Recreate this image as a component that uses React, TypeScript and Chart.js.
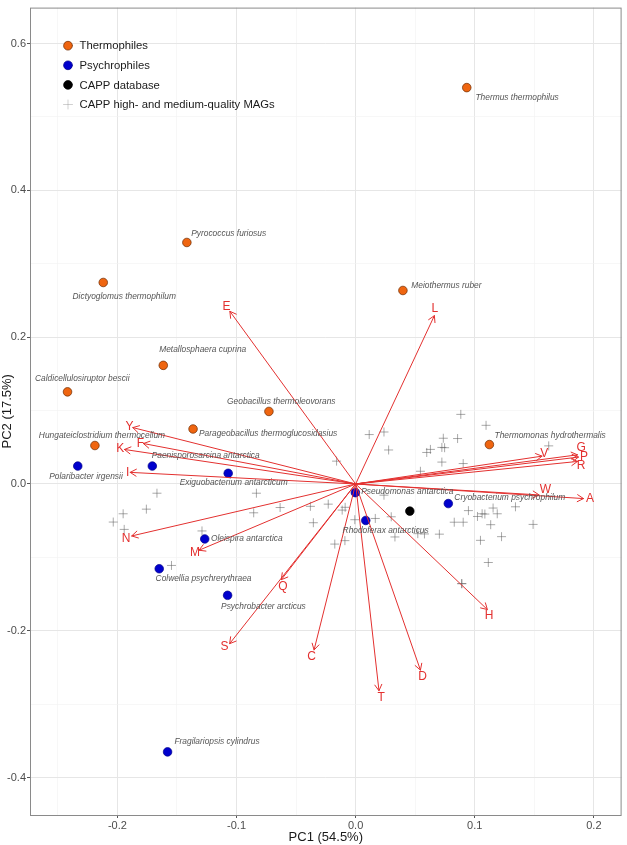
import React, { useEffect, useRef } from 'react';
import { Chart, registerables } from 'chart.js';

Chart.register(...registerables);

// ---------- axes ----------
const xMin = -0.2734;
const xMax = 0.2233;
const yMin = -0.451;
const yMax = 0.649;
const xGridValues = [-0.25, -0.2, -0.15, -0.1, -0.05, 0, 0.05, 0.1, 0.15, 0.2];
const xTickLabels = [-0.2, -0.1, 0, 0.1, 0.2];
const yGridValues = [-0.4, -0.3, -0.2, -0.1, 0, 0.1, 0.2, 0.3, 0.4, 0.5, 0.6];
const yTickLabels = [-0.4, -0.2, 0, 0.2, 0.4, 0.6];
const xTitle = 'PC1 (54.5%)';
const yTitle = 'PC2 (17.5%)';

// ---------- legend ----------
const legendLabels = ['Thermophiles', 'Psychrophiles', 'CAPP database', 'CAPP high- and medium-quality MAGs'];

// ---------- thermophiles ----------
const thermoNames = ['Thermus thermophilus', 'Meiothermus ruber', 'Pyrococcus furiosus', 'Dictyoglomus thermophilum', 'Metallosphaera cuprina', 'Caldicellulosiruptor bescii', 'Geobacillus thermoleovorans', 'Parageobacillus thermoglucosidasius', 'Hungateiclostridium thermocellum', 'Thermomonas hydrothermalis'];
const thermoPC1 = [0.0933, 0.0397, -0.1417, -0.2119, -0.1615, -0.2419, -0.0728, -0.1365, -0.2189, 0.1123];
const thermoPC2 = [0.540, 0.2636, 0.329, 0.2745, 0.1616, 0.1255, 0.0988, 0.0749, 0.0524, 0.0537];
const thermoLabelPC1 = [0.1356, 0.0762, -0.1066, -0.1943, -0.1284, -0.2295, -0.0624, -0.0735, -0.2130, 0.1633];
const thermoLabelPC2 = [0.5264, 0.2704, 0.3416, 0.2555, 0.1828, 0.1440, 0.1128, 0.0681, 0.0664, 0.0664];

// ---------- psychrophiles ----------
const psychroNames = ['Polaribacter irgensii', 'Paenisporosarcina antarctica', 'Exiguobacterium antarcticum', 'Oleispira antarctica', 'Colwellia psychrerythraea', 'Psychrobacter arcticus', 'Fragilariopsis cylindrus', 'Pseudomonas antarctica', 'Rhodoferax antarcticus', 'Cryobacterium psychrophilum'];
const psychroPC1 = [-0.2333, -0.1707, -0.107, -0.1267, -0.1649, -0.1075, -0.1579, -0.0002, 0.0085, 0.0778];
const psychroPC2 = [0.0244, 0.0244, 0.0145, -0.0749, -0.1155, -0.1517, -0.365, -0.0118, -0.0497, -0.0267];
const psychroLabelPC1 = [-0.2264, -0.1259, -0.1024, -0.0914, -0.1277, -0.0774, -0.1164, 0.0434, 0.0252, 0.1294];
const psychroLabelPC2 = [0.0095, 0.0389, 0.0023, -0.0749, -0.1296, -0.1666, -0.3516, -0.0108, -0.0636, -0.0190];

// ---------- CAPP database ----------
const cappPC1 = [0.0455];
const cappPC2 = [-0.0370];

// ---------- CAPP MAGs ----------
const magPC1 = [-0.2035, -0.1952, -0.1943, -0.1757, -0.1668, -0.1546, -0.1290, -0.0833, -0.0856, -0.0634, -0.0380, -0.0355, -0.0230, -0.0160, -0.0113, -0.0088, -0.0007, -0.0175, -0.0090, 0.0114, 0.0238, 0.0277, 0.0238, 0.0165, 0.0299, 0.0330, 0.0522, 0.0578, 0.0703, 0.0544, 0.0597, 0.0628, 0.0724, 0.0747, 0.0736, 0.0856, 0.0724, 0.0903, 0.0883, 0.1095, 0.1621, 0.0828, 0.0903, 0.0947, 0.1023, 0.1062, 0.1085, 0.1154, 0.1189, 0.1134, 0.1342, 0.1048, 0.1225, 0.1490, 0.1114, 0.0891, 0.0891];
const magPC2 = [-0.0519, -0.0406, -0.0619, -0.0343, -0.0126, -0.1110, -0.0640, -0.0126, -0.0393, -0.0321, -0.0305, -0.0528, -0.0275, 0.0311, -0.0356, -0.0318, -0.0487, -0.0819, -0.0772, 0.0673, 0.0708, 0.0463, -0.0153, -0.0470, -0.0447, -0.0722, -0.0677, -0.0681, -0.0684, 0.0173, 0.0429, 0.0471, 0.0498, 0.0494, 0.0623, 0.0619, 0.0298, 0.0278, 0.0948, 0.0799, 0.0519, -0.0521, -0.0521, -0.0363, -0.0443, -0.0406, -0.0410, -0.0328, -0.0406, -0.0555, -0.0311, -0.0768, -0.0718, -0.0551, -0.1070, -0.1358, -0.1358];

// ---------- loadings (amino acids) ----------
const aminoAcids = ['E', 'L', 'Y', 'F', 'K', 'I', 'N', 'M', 'Q', 'S', 'C', 'T', 'D', 'H', 'V', 'G', 'P', 'R', 'W', 'A'];
const loadPC1 = [-0.1056, 0.0661, -0.1871, -0.1782, -0.1941, -0.1893, -0.1880, -0.1315, -0.0624, -0.1058, -0.0349, 0.0196, 0.0544, 0.1106, 0.1565, 0.1863, 0.1871, 0.1863, 0.1540, 0.1913];
const loadPC2 = [0.2352, 0.2293, 0.0768, 0.0551, 0.0470, 0.0158, -0.0708, -0.0903, -0.1304, -0.2176, -0.2261, -0.2817, -0.2536, -0.1711, 0.0379, 0.0397, 0.0366, 0.0307, -0.0149, -0.0199];
const loadLabelPC1 = [-0.1084, 0.0664, -0.1899, -0.1807, -0.1977, -0.1913, -0.1927, -0.1348, -0.0611, -0.1100, -0.0369, 0.0215, 0.0563, 0.1120, 0.1584, 0.1893, 0.1918, 0.1893, 0.1593, 0.1968];
const loadLabelPC2 = [0.2420, 0.2387, 0.0785, 0.0551, 0.0478, 0.0158, -0.0749, -0.0930, -0.1404, -0.2217, -0.2356, -0.2907, -0.2623, -0.1801, 0.0410, 0.0492, 0.0375, 0.0244, -0.0077, -0.0207];

// ---------- styles ----------
const FONT = '"Liberation Sans", Arial, sans-serif';
const ORANGE = '#EF6510';
const ORANGE_EDGE = '#6b2a00';
const BLUE = '#0000CD';
const BLUE_EDGE = '#00008a';
const BLACK = '#000000';
const CROSS = 'rgba(95,95,95,0.6)';
const RED = '#E3302F';
const LABEL_GREY = '#555555';

const isMajor = (v: number, step: number) => Math.abs(v / step - Math.round(v / step)) < 1e-6;
const fmt = (v: number) => (Math.abs(v) < 1e-9 ? '0.0' : v.toFixed(1));

const toPts = (xs: number[], ys: number[]) => xs.map((v, i) => ({ x: v, y: ys[i] }));

const overlayPlugin = {
  id: 'overlay',
  afterDatasetsDraw(chart: any) {
    const { ctx, chartArea, scales } = chart;
    const xs = scales.x;
    const ys = scales.y;
    ctx.save();

    // loadings arrows
    const ox = xs.getPixelForValue(0);
    const oy = ys.getPixelForValue(0);
    ctx.strokeStyle = RED;
    ctx.lineWidth = 1;
    ctx.lineCap = 'round';
    loadPC1.forEach((v, i) => {
      const tx = xs.getPixelForValue(v);
      const ty = ys.getPixelForValue(loadPC2[i]);
      ctx.beginPath();
      ctx.moveTo(ox, oy);
      ctx.lineTo(tx, ty);
      ctx.stroke();
      const ang = Math.atan2(ty - oy, tx - ox);
      const L = 7;
      const a = Math.PI / 6;
      ctx.beginPath();
      ctx.moveTo(tx - L * Math.cos(ang - a), ty - L * Math.sin(ang - a));
      ctx.lineTo(tx, ty);
      ctx.lineTo(tx - L * Math.cos(ang + a), ty - L * Math.sin(ang + a));
      ctx.stroke();
    });

    // loading labels
    ctx.fillStyle = RED;
    ctx.font = `12px ${FONT}`;
    ctx.textAlign = 'center';
    ctx.textBaseline = 'middle';
    aminoAcids.forEach((aa, i) => {
      ctx.fillText(aa, xs.getPixelForValue(loadLabelPC1[i]), ys.getPixelForValue(loadLabelPC2[i]));
    });

    // species labels
    ctx.fillStyle = LABEL_GREY;
    ctx.font = `italic 8.4px ${FONT}`;
    thermoNames.forEach((n, i) => {
      ctx.fillText(n, xs.getPixelForValue(thermoLabelPC1[i]), ys.getPixelForValue(thermoLabelPC2[i]));
    });
    psychroNames.forEach((n, i) => {
      ctx.fillText(n, xs.getPixelForValue(psychroLabelPC1[i]), ys.getPixelForValue(psychroLabelPC2[i]));
    });

    // panel border
    ctx.strokeStyle = '#8a8a8a';
    ctx.lineWidth = 1;
    ctx.strokeRect(chartArea.left + 0.5, chartArea.top + 0.5, chartArea.right - chartArea.left - 1, chartArea.bottom - chartArea.top);

    // legend
    const lx = 68;
    const ly0 = 45.7;
    const dy = 19.6;
    const symbols = [
      { fill: ORANGE, edge: ORANGE_EDGE },
      { fill: BLUE, edge: BLUE_EDGE },
      { fill: BLACK, edge: BLACK },
    ];
    symbols.forEach((s, i) => {
      ctx.beginPath();
      ctx.arc(lx, ly0 + i * dy, 4.4, 0, Math.PI * 2);
      ctx.fillStyle = s.fill;
      ctx.fill();
      ctx.lineWidth = 0.7;
      ctx.strokeStyle = s.edge;
      ctx.stroke();
    });
    const cy = ly0 + 3 * dy;
    ctx.strokeStyle = 'rgba(150,150,150,0.5)';
    ctx.lineWidth = 0.9;
    ctx.beginPath();
    ctx.moveTo(lx - 4.5, cy);
    ctx.lineTo(lx + 4.5, cy);
    ctx.moveTo(lx, cy - 4.5);
    ctx.lineTo(lx, cy + 4.5);
    ctx.stroke();

    ctx.fillStyle = '#1a1a1a';
    ctx.font = `11.3px ${FONT}`;
    ctx.textAlign = 'left';
    legendLabels.forEach((t, i) => {
      ctx.fillText(t, 79.5, ly0 + i * dy + 0.5);
    });

    ctx.restore();
  },
};

export default function App() {
  const ref = useRef<HTMLCanvasElement | null>(null);

  useEffect(() => {
    if (!ref.current) return;
    const chart = new Chart(ref.current, {
      type: 'scatter',
      data: {
        datasets: [
          {
            label: legendLabels[3],
            data: toPts(magPC1, magPC2),
            pointStyle: 'cross',
            pointRadius: 4.5,
            borderColor: CROSS,
            backgroundColor: CROSS,
            borderWidth: 0.9,
          },
          {
            label: legendLabels[0],
            data: toPts(thermoPC1, thermoPC2),
            pointStyle: 'circle',
            pointRadius: 4.3,
            backgroundColor: ORANGE,
            borderColor: ORANGE_EDGE,
            borderWidth: 0.7,
          },
          {
            label: legendLabels[1],
            data: toPts(psychroPC1, psychroPC2),
            pointStyle: 'circle',
            pointRadius: 4.3,
            backgroundColor: BLUE,
            borderColor: BLUE_EDGE,
            borderWidth: 0.7,
          },
          {
            label: legendLabels[2],
            data: toPts(cappPC1, cappPC2),
            pointStyle: 'circle',
            pointRadius: 4.3,
            backgroundColor: BLACK,
            borderColor: BLACK,
            borderWidth: 0.7,
          },
        ],
      },
      options: {
        responsive: false,
        animation: false,
        devicePixelRatio: 1,
        events: [],
        layout: { padding: { top: 3, right: 2.5, left: 0, bottom: 0 } },
        plugins: { legend: { display: false }, tooltip: { enabled: false } },
        scales: {
          x: {
            type: 'linear',
            min: xMin,
            max: xMax,
            afterBuildTicks: (s: any) => {
              s.ticks = xGridValues.map((v) => ({ value: v }));
            },
            afterFit: (s: any) => {
              s.height = 30;
            },
            ticks: {
              autoSkip: false,
              maxRotation: 0,
              padding: 1,
              color: '#4D4D4D',
              font: { family: FONT, size: 11 },
              callback: (v: any) => (xTickLabels.some((t) => Math.abs(t - v) < 1e-9) ? fmt(v) : ''),
            },
            grid: {
              color: (c: any) => (isMajor(c.tick?.value ?? 0, 0.1) ? '#E6E6E6' : '#F2F2F2'),
              lineWidth: (c: any) => (isMajor(c.tick?.value ?? 0, 0.1) ? 1 : 0.6),
              drawTicks: true,
              tickLength: 3,
              tickColor: (c: any) => (isMajor(c.tick?.value ?? 0, 0.1) ? '#555555' : 'rgba(0,0,0,0)'),
              tickWidth: 1,
            },
            border: { display: false },
            title: {
              display: true,
              text: xTitle,
              color: '#1a1a1a',
              font: { family: FONT, size: 13 },
              padding: { top: 0, bottom: 0 },
            },
          },
          y: {
            type: 'linear',
            min: yMin,
            max: yMax,
            afterBuildTicks: (s: any) => {
              s.ticks = yGridValues.map((v) => ({ value: v }));
            },
            afterFit: (s: any) => {
              s.width = 30;
            },
            ticks: {
              autoSkip: false,
              padding: 1,
              color: '#4D4D4D',
              font: { family: FONT, size: 11 },
              callback: (v: any) => (yTickLabels.some((t) => Math.abs(t - v) < 1e-9) ? fmt(v) : ''),
            },
            grid: {
              color: (c: any) => (isMajor(c.tick?.value ?? 0, 0.2) ? '#E6E6E6' : '#F2F2F2'),
              lineWidth: (c: any) => (isMajor(c.tick?.value ?? 0, 0.2) ? 1 : 0.6),
              drawTicks: true,
              tickLength: 3,
              tickColor: (c: any) => (isMajor(c.tick?.value ?? 0, 0.2) ? '#555555' : 'rgba(0,0,0,0)'),
              tickWidth: 1,
            },
            border: { display: false },
            title: {
              display: true,
              text: yTitle,
              color: '#1a1a1a',
              font: { family: FONT, size: 13 },
              padding: { top: 0, bottom: 0 },
            },
          },
        },
      },
      plugins: [overlayPlugin],
    } as any);
    return () => chart.destroy();
  }, []);

  return (
    <div style={{ position: 'fixed', left: 0, top: 0, width: 627, height: 845, background: '#ffffff' }}>
      <canvas ref={ref} width={627} height={845} style={{ display: 'block', width: 627, height: 845 }} />
    </div>
  );
}
